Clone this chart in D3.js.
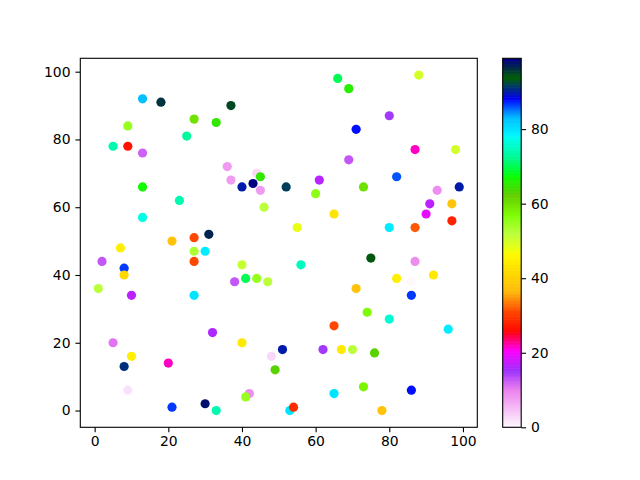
<!DOCTYPE html>
<html><head><meta charset="utf-8">
<script src="https://cdn.jsdelivr.net/npm/d3@7"></script>
<style>body{margin:0;background:#fff}</style>
</head><body><svg id="c" width="640" height="480"></svg>
<script>
// ---- data ----
const xs = [13,18,9,27,33,25,5,9,13,66,69,37,36,37,44,45,40,43,52,61,69,88,80,71,87,98,82,73,99,13,23,13,7,21,27,31,27,30,27,2,8,8,1,10,27,45,60,46,65,55,40,56,38,41,44,47,93,91,97,90,97,80,87,75,87,82,92,86,71,86,32,5,10,8,20,9,21,30,33,40,48,51,62,67,65,49,42,41,53,54,65,74,80,96,70,76,73,86,78];
const ys = [92,91,84,86,85,81,78,78,76,98,95,90,72,68,70,69,66,67,66,68,74,99,87,83,77,77,69,66,66,66,62,57,48,50,51,52,47,47,44,44,42,40,36,34,34,65,64,60,58,54,43,43,38,39,39,38,65,61,61,58,56,54,54,45,44,39,40,38,36,34,23,20,16,13,14,6,1,2,0,20,16,18,18,18,25,12,5,4,0,1,5,29,27,24,18,17,7,6,0];
const cs = [83,96,55,60,65,73,74,27,12,70,66,95,8,8,3,65,90,99,92,17,13,50,15,88,22,50,86,60,90,67,74,77,45,38,31,97,53,79,31,13,87,41,52,17,80,8,56,52,43,48,51,75,13,70,55,52,9,17,38,19,28,79,32,94,9,45,44,0,38,87,16,11,45,91,22,2,87,98,74,44,3,90,15,44,31,63,9,55,80,29,80,57,76,79,52,63,58,88,38];
const xTicks = [0,20,40,60,80,100];
const yTicks = [0,20,40,60,80,100];
const cTicks = [0,20,40,60,80];

// gist_ncar segment data (matplotlib), used reversed
const ncarRed = [[0,0],[0.3098,0],[0.3725,0.3993],[0.4235,0.5003],[0.5333,1],[0.7922,1],[0.8471,0.6218],[0.8980,0.9235],[1,0.9961]];
const ncarGreen = [[0,0],[0.0510,0.3722],[0.1059,0],[0.1569,0.7202],[0.1608,0.7537],[0.1647,0.7752],[0.2157,1],[0.2588,0.9804],[0.2706,0.9804],[0.3176,1],[0.3686,0.8081],[0.4275,1],[0.5216,1],[0.6314,0.7292],[0.6863,0.2796],[0.7451,0],[0.7922,0],[0.8431,0.1753],[0.8980,0.5],[1,0.9725]];
const ncarBlue = [[0,0.5020],[0.0510,0.0222],[0.1098,1],[0.2039,1],[0.2627,0.6145],[0.3216,0],[0.4157,0],[0.4745,0.2342],[0.5333,0],[0.5804,0],[0.6314,0.0549],[0.6902,0],[0.7373,0],[0.7922,0.9738],[0.8,1],[0.8431,1],[0.8980,0.9341],[1,0.9961]];

function seg(d, t){
  for (let i=1;i<d.length;i++){
    if (t<=d[i][0]){
      const a=d[i-1], b=d[i];
      const f=(t-a[0])/(b[0]-a[0]||1);
      return a[1]+f*(b[1]-a[1]);
    }
  }
  return d[d.length-1][1];
}
const LUT = d3.range(256).map(i=>{
  const t = 1 - i/255; // reversed
  return d3.rgb(Math.round(seg(ncarRed,t)*255),Math.round(seg(ncarGreen,t)*255),Math.round(seg(ncarBlue,t)*255)).formatHex();
});
const cmap = n => LUT[Math.max(0,Math.min(255,Math.floor(n*256)))];

// ---- layout ----
const L=80.3, R=477.3, T=58.3, B=427.3;
const CBL=502.7, CBR=521.2;
const svg=d3.select("#c");
const font='"DejaVu Sans", sans-serif';

function padded(ext){const m=(ext[1]-ext[0])*0.05;return [ext[0]-m, ext[1]+m];}
const x=d3.scaleLinear().domain(padded(d3.extent(xs))).range([L,R]);
const y=d3.scaleLinear().domain(padded(d3.extent(ys))).range([B,T]);
const cExt=d3.extent(cs);
const color=d3.scaleSequential(cmap).domain(cExt);
const cy=d3.scaleLinear().domain(cExt).range([B,T]);

const pts=xs.map((v,i)=>({x:v,y:ys[i],c:cs[i]}));
svg.append("g").selectAll("circle").data(pts).join("circle")
  .attr("cx",d=>x(d.x)).attr("cy",d=>y(d.y)).attr("r",4.6)
  .attr("fill",d=>color(d.c));

// frame
svg.append("rect").attr("x",L).attr("y",T).attr("width",R-L).attr("height",B-T)
  .attr("fill","none").attr("stroke","#000").attr("stroke-width",1.1);

function styleAxis(g){
  g.select(".domain").remove();
  g.selectAll(".tick line").attr("stroke","#000").attr("stroke-width",1.1);
  g.selectAll(".tick text").attr("fill","#000").style("font-family",font).style("font-size","13.9px");
}
svg.append("g").attr("transform",`translate(0,${B})`)
  .call(d3.axisBottom(x).tickValues(xTicks).tickSize(4.9).tickPadding(4.3)).call(styleAxis);
svg.append("g").attr("transform",`translate(${L},0)`)
  .call(d3.axisLeft(y).tickValues(yTicks).tickSize(4.9).tickPadding(4.9)).call(styleAxis);

// colorbar
const nSteps=LUT.length;
const cb=svg.append("g");
cb.selectAll("rect").data(d3.range(nSteps)).join("rect")
  .attr("x",CBL).attr("width",CBR-CBL)
  .attr("y",i=>cy(cExt[0]+(i+1)/nSteps*(cExt[1]-cExt[0])))
  .attr("height",i=>cy(cExt[0]+i/nSteps*(cExt[1]-cExt[0]))-cy(cExt[0]+(i+1)/nSteps*(cExt[1]-cExt[0]))+0.6)
  .attr("fill",i=>LUT[i]);
svg.append("rect").attr("x",CBL).attr("y",T).attr("width",CBR-CBL).attr("height",B-T)
  .attr("fill","none").attr("stroke","#000").attr("stroke-width",1.1);
svg.append("g").attr("transform",`translate(${CBR},0)`)
  .call(d3.axisRight(cy).tickValues(cTicks).tickSize(4.9).tickPadding(4.9)).call(styleAxis);
</script></body></html>
